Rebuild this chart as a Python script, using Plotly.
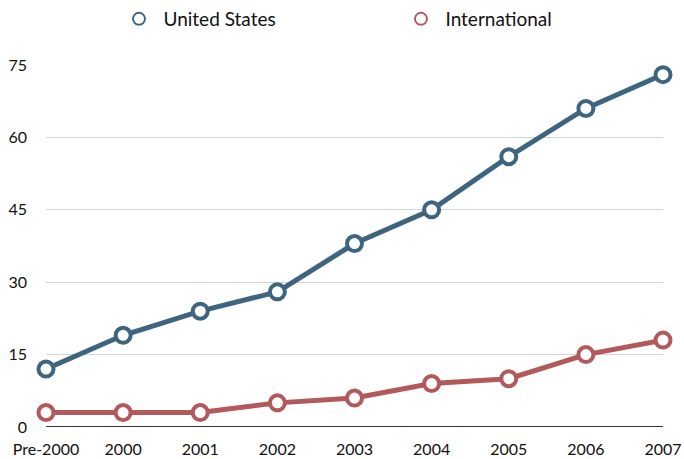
import plotly.graph_objects as go

years = ['Pre-2000', '2000', '2001', '2002', '2003', '2004', '2005', '2006', '2007']
united_states = [12, 19, 24, 28, 38, 45, 56, 66, 73]
international = [3, 3, 3, 5, 6, 9, 10, 15, 18]
y_ticks = [0, 15, 30, 45, 60, 75]

US_COLOR = '#3d6580'
INTL_COLOR = '#b3585b'


def series(name, values, color):
    return go.Scatter(x=years, y=values, name=name, mode='lines+markers',
                      line=dict(color=color, width=5),
                      marker=dict(symbol='circle', size=15, color='white',
                                  line=dict(color=color, width=4)),
                      cliponaxis=False, showlegend=False)


def legend_entry(name, color, legend):
    # marker-only copy so the legend shows just the ring
    return go.Scatter(x=[None], y=[None], name=name, mode='markers', legend=legend,
                      marker=dict(symbol='circle', size=13, color='white',
                                  line=dict(color=color, width=4)))


fig = go.Figure()
fig.add_trace(series('United States', united_states, US_COLOR))
fig.add_trace(series('International', international, INTL_COLOR))
fig.add_trace(legend_entry('United States', US_COLOR, 'legend'))
fig.add_trace(legend_entry('International', INTL_COLOR, 'legend2'))

legend_style = dict(orientation='h', yanchor='middle', y=0.9555, xanchor='left',
                    font=dict(size=19), itemsizing='constant', itemwidth=39,
                    bgcolor='rgba(0,0,0,0)')

fig.update_layout(
    width=684, height=459,
    margin=dict(l=46, r=21, t=0, b=32, autoexpand=False),
    paper_bgcolor='white', plot_bgcolor='white',
    font=dict(family='Lato', size=16, color='#111111'),
    showlegend=True,
    legend=dict(legend_style, x=0.111),
    legend2=dict(legend_style, x=0.568),
    xaxis=dict(type='category', range=[0, 8], showgrid=False, zeroline=False,
               showline=False, ticks='', automargin=False, ticklabelstandoff=11),
    yaxis=dict(range=[0, 75], tickvals=y_ticks, showgrid=True, gridcolor='#d4d4d4',
               domain=[0, 0.8478], automargin=False,
               gridwidth=1, zeroline=True, zerolinecolor='#333333', zerolinewidth=1,
               ticks='', ticklabelstandoff=18),
)

# drop the browser's default 8px body margin so the figure sits at the page corner
fig.write_html('out.html', config={'displayModeBar': False},
               post_script="document.body.style.margin = '0';")
